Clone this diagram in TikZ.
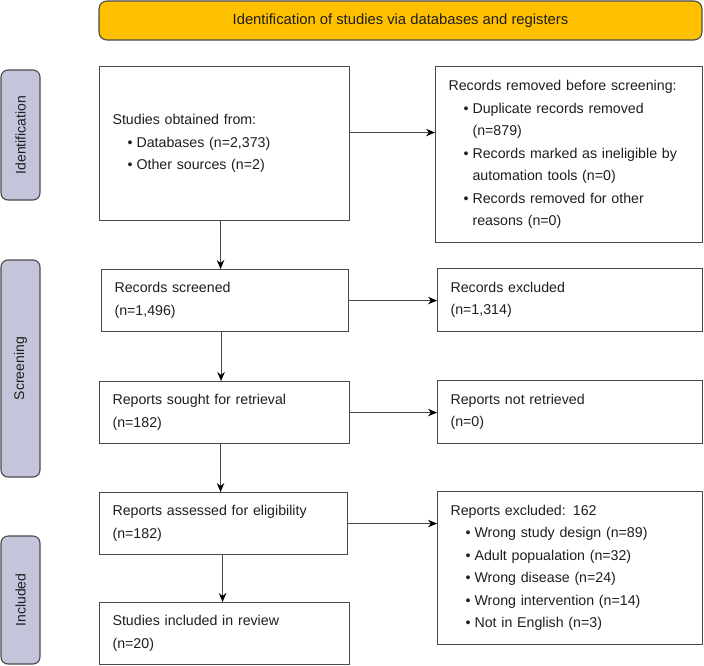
\documentclass[tikz,border=0pt]{standalone}
\usepackage{fontspec}
\setmainfont{Liberation Sans}
\usetikzlibrary{arrows.meta}
\definecolor{bannerfill}{HTML}{FFC000}
\definecolor{sidefill}{HTML}{C4C4DB}
\definecolor{edgecol}{HTML}{4A4A4A}
\definecolor{textcol}{HTML}{1E1E1E}
\newcommand\bul[1]{\hspace*{15pt}\makebox[9pt][l]{\textbullet}#1}
\newcommand\cont[1]{\hspace*{24pt}#1}
\begin{document}
\begin{tikzpicture}[x=1pt,y=-1pt,every node/.style={text=textcol},
  box/.style={draw=edgecol,line width=1.1pt,rectangle,inner xsep=13pt,inner ysep=4pt,
    align=left,anchor=north west,font=\fontsize{14.2}{22.5}\selectfont},
  sidelab/.style={draw=edgecol,line width=1.1pt,fill=sidefill,rounded corners=7pt,rotate=90,
    minimum height=39pt,inner sep=0pt,font=\fontsize{14}{16}\selectfont},
  arr/.style={draw=edgecol,line width=1.1pt,-{Stealth[length=9pt,width=7.5pt,fill=black,color=black]}}]
\useasboundingbox (0,0) rectangle (704,665);
% banner
\node[draw=edgecol,line width=1.1pt,fill=bannerfill,rounded corners=8pt,minimum width=603pt,minimum height=39pt,inner sep=0pt,font=\fontsize{14.8}{16}\selectfont] (banner) at (400.5,20.5) {Identification of studies via databases and registers};
% side labels
\node[sidelab,minimum width=130pt] (lid) at (20.5,135) {Identification};
\node[sidelab,minimum width=217pt] (lsc) at (20.5,368.5) {Screening};
\node[sidelab,minimum width=128pt] (lin) at (20.5,600) {Included};
% left column
\node[box,text width=224pt,minimum height=154pt] (b1) at (99,66) {Studies obtained from:\\\bul{Databases (n=2,373)}\\\bul{Other sources (n=2)}};
\node[box,text width=221pt,minimum height=62pt] (b2) at (101,269) {Records screened\\(n=1,496)};
\node[box,text width=224pt,minimum height=62pt] (b3) at (99,381) {Reports sought for retrieval\\(n=182)};
\node[box,text width=222pt,minimum height=62pt] (b4) at (99,492) {Reports assessed for eligibility\\(n=182)};
\node[box,text width=224pt,minimum height=62pt] (b5) at (99,602) {Studies included in review\\(n=20)};
% right column
\node[box,text width=241pt,minimum height=176pt] (r1) at (435,66) {Records removed before screening:\\\bul{Duplicate records removed}\\\cont{(n=879)}\\\bul{Records marked as ineligible by}\\\cont{automation tools (n=0)}\\\bul{Records removed for other}\\\cont{reasons (n=0)}};
\node[box,text width=239pt,minimum height=63pt] (r2) at (437,268) {Records excluded\\(n=1,314)};
\node[box,text width=239pt,minimum height=63pt] (r3) at (437,380) {Reports not retrieved\\(n=0)};
\node[box,text width=239pt,minimum height=153pt] (r4) at (437,491) {Reports excluded: 162\\\bul{Wrong study design (n=89)}\\\bul{Adult popualation (n=32)}\\\bul{Wrong disease (n=24)}\\\bul{Wrong intervention (n=14)}\\\bul{Not in English (n=3)}};
% horizontal arrows
\coordinate (a1) at ([yshift=11pt]b1.east);
\draw[arr] (a1) -- (a1 -| r1.west);
\draw[arr] (b2.east) -- (b2.east -| r2.west);
\draw[arr] (b3.east) -- (b3.east -| r3.west);
\draw[arr] (b4.east) -- (b4.east -| r4.west);
% vertical arrows
\coordinate (d1) at ([xshift=-4pt]b1.south);
\draw[arr] (d1) -- (d1 |- b2.north);
\coordinate (d2) at ([xshift=-4pt]b2.south);
\draw[arr] (d2) -- (d2 |- b3.north);
\coordinate (d3) at ([xshift=-4pt]b3.south);
\draw[arr] (d3) -- (d3 |- b4.north);
\coordinate (d4) at ([xshift=-1pt]b4.south);
\draw[arr] (d4) -- (d4 |- b5.north);
\end{tikzpicture}
\end{document}
